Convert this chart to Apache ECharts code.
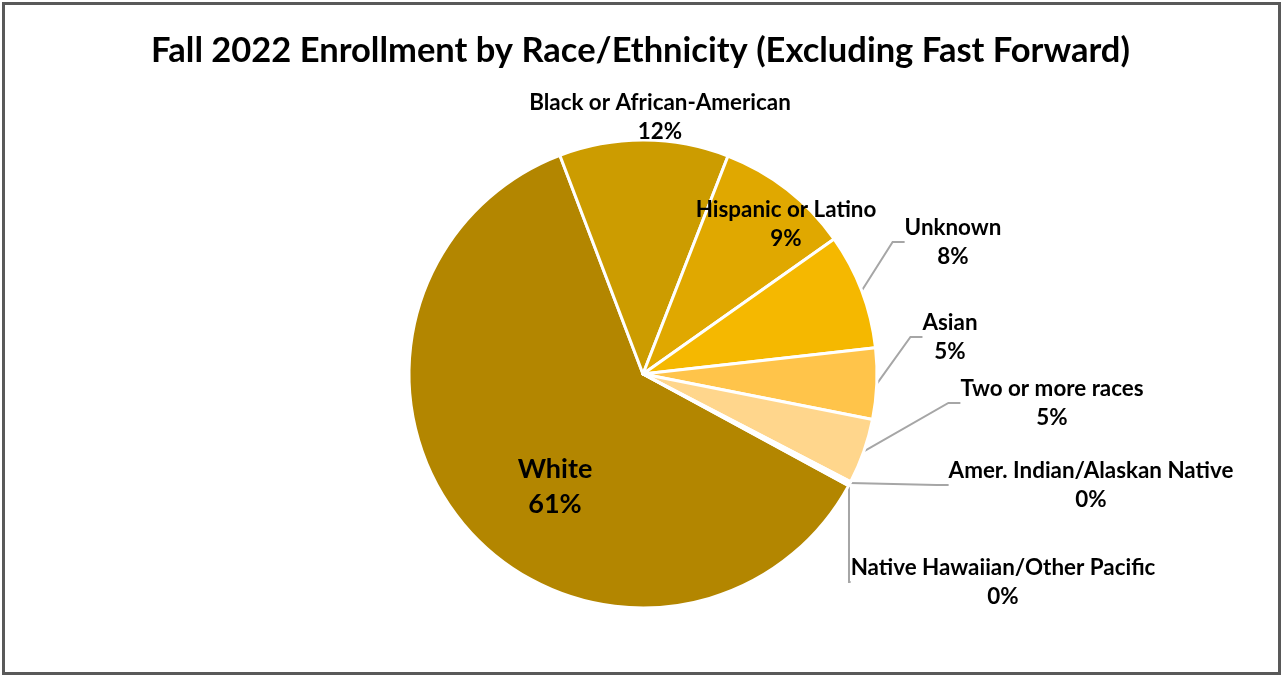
<!DOCTYPE html>
<html>
<head>
<meta charset="utf-8">
<script src="https://cdn.jsdelivr.net/npm/echarts@6/dist/echarts.min.js"></script>
<style>
html,body{margin:0;padding:0;background:#fff;}
#chart{position:absolute;left:0;top:0;width:1281px;height:675px;}
#frame{position:absolute;left:2px;top:2px;width:1273px;height:667px;border:3px solid #595959;pointer-events:none;}
</style>
</head>
<body>
<div id="chart"></div>
<div id="frame"></div>
<script>
const titleText = 'Fall 2022 Enrollment by Race/Ethnicity (Excluding Fast Forward)';
const categories = ['White', 'Black or African-American', 'Hispanic or Latino', 'Unknown', 'Asian', 'Two or more races', 'Amer. Indian/Alaskan Native', 'Native Hawaiian/Other Pacific'];
const values = [61.3, 11.7, 9.3, 8.0, 4.9, 4.5, 0.2, 0.1];
const colors = ['#B38600', '#CC9C00', '#E0A800', '#F5B800', '#FFC44A', '#FFD68C', '#FFE4B3', '#FFF0D6'];

// label block centres (layout only)
const labelPos = {
  'White': [555, 487],
  'Black or African-American': [660, 117],
  'Hispanic or Latino': [786, 224],
  'Unknown': [953, 242],
  'Asian': [950, 337],
  'Two or more races': [1052, 403],
  'Amer. Indian/Alaskan Native': [1091, 485],
  'Native Hawaiian/Other Pacific': [1003, 582]
};
const noLine = { 'White': 1, 'Black or African-American': 1, 'Hispanic or Latino': 1 };

const chart = echarts.init(document.getElementById('chart'));
const data = categories.map((c, i) => ({
  name: c,
  value: values[i],
  itemStyle: { color: colors[i] },
  label: { position: c === 'White' || c === 'Hispanic or Latino' ? 'inside' : 'outside',
           rich: { a: c === 'White' ? { fontSize: 27, lineHeight: 35 } : { fontSize: 22.4 } } },
  labelLine: { show: !noLine[c] }
}));

chart.setOption({
  animation: false,
  title: {
    text: titleText,
    left: 'center',
    top: 28,
    textStyle: { fontFamily: 'Lato', fontWeight: 'bold', fontSize: 34.5, color: '#000' }
  },
  series: [{
    type: 'pie',
    center: [643, 374],
    radius: 234,
    startAngle: -28.5,
    clockwise: true,
    avoidLabelOverlap: false,
    data: data,
    itemStyle: { borderColor: '#fff', borderWidth: 3 },
    label: {
      formatter: p => '{a|' + p.name + '}\n{a|' + Math.round(p.value) + '%}',
      rich: {
        a: { fontFamily: 'Lato', fontWeight: 'bold', fontSize: 22.4, color: '#000', align: 'center', lineHeight: 29 }
      }
    },
    labelLine: {
      length: 30,
      length2: 12,
      lineStyle: { color: '#A6A6A6', width: 2 }
    },
    labelLayout: p => {
      const s = labelPos[categories[p.dataIndex]];
      return { x: s[0], y: s[1], align: 'center', verticalAlign: 'middle' };
    }
  }]
});
</script>
</body>
</html>
